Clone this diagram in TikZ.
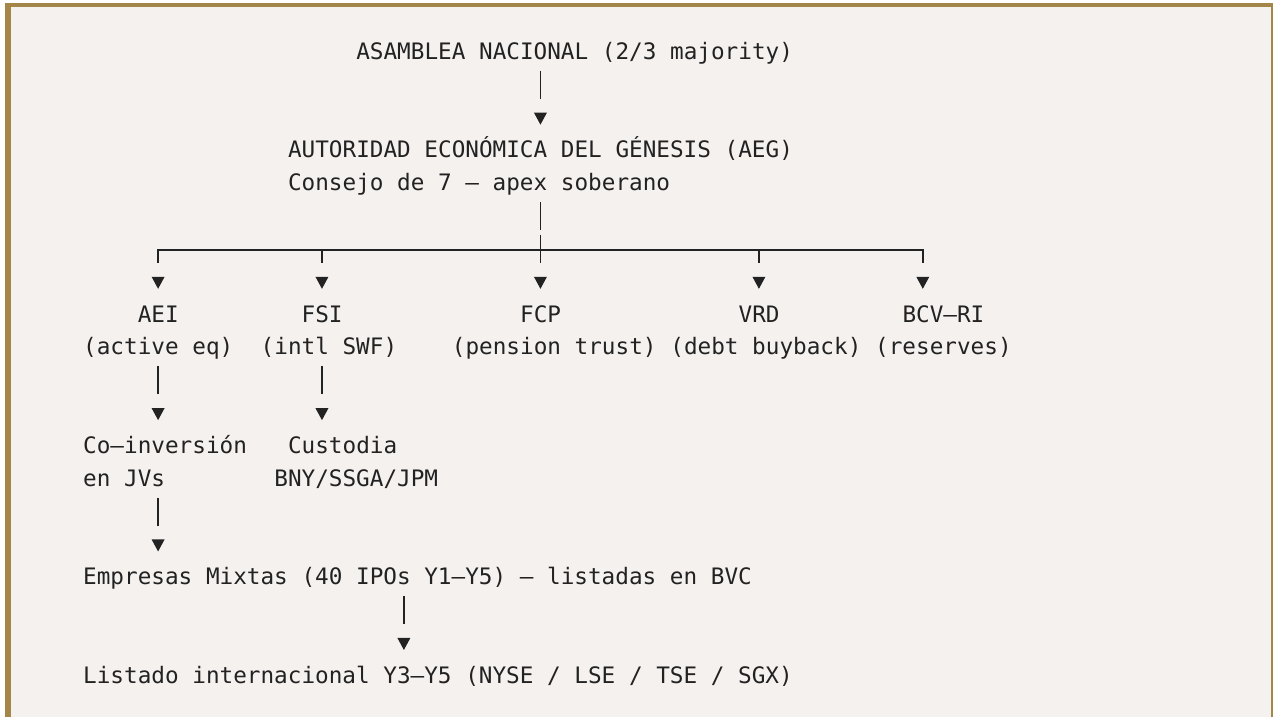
\documentclass[tikz,border=0pt]{standalone}
\usepackage{fontspec}
\setmonofont{DejaVu Sans Mono}
\definecolor{bg}{HTML}{F5F1EF}
\definecolor{gold}{HTML}{A38648}
\definecolor{ink}{HTML}{222222}
% column left edge, column centre, row baseline (in px)
\newcommand\cL[1]{83.2+13.655*#1}
\newcommand\cX[1]{89.8275+13.655*#1}
\newcommand\rB[1]{59.5+32.83*#1}
\newcommand\mktip[3]{\coordinate (#1) at (\cX{#2},\rB{#3}-0.5);
  \fill[ink] (#1) -- ++(-6.5,-12) -- ++(13,0) -- cycle;}
\newcommand\mkbarpts[3]{\coordinate (#1s) at (\cX{#2},\rB{#3}-21.5);
  \coordinate (#1e) at (\cX{#2},\rB{#3}+6.5);}
\begin{document}
\begin{tikzpicture}[x=0.75pt,y=-0.75pt,
  txt/.style={anchor=base west,inner sep=0pt,outer sep=0pt,text=ink,
    font=\ttfamily\fontsize{17pt}{20pt}\selectfont},
  bar/.style={draw=ink,line width=1.25pt,line cap=butt,line join=miter}]
\useasboundingbox (0,0) rectangle (1274,717);
\fill[white] (0,0) rectangle (1274,717);
\fill[bg] (5,3) rectangle (1273,717);
\fill[gold] (5,3) rectangle (1273,7);
\fill[gold] (5,3) rectangle (11,717);
\fill[gold] (1271,3) rectangle (1273,717);

% texts
\node[txt] (asam) at (\cL{20},\rB{0}) {ASAMBLEA NACIONAL (2/3 majority)};
\node[txt] (aeg) at (\cL{15},\rB{3}) {AUTORIDAD ECONÓMICA DEL GÉNESIS (AEG)};
\node[txt] (consejo) at (\cL{15},\rB{4}) {Consejo de 7 — apex soberano};
\node[txt] (aei) at (\cL{4},\rB{8}) {AEI};
\node[txt] (fsi) at (\cL{16},\rB{8}) {FSI};
\node[txt] (fcp) at (\cL{32},\rB{8}) {FCP};
\node[txt] (vrd) at (\cL{48},\rB{8}) {VRD};
\node[txt] (bcv) at (\cL{60},\rB{8}) {BCV–RI};
\node[txt] (aeid) at (\cL{0},\rB{9}) {(active eq)};
\node[txt] (fsid) at (\cL{13},\rB{9}) {(intl SWF)};
\node[txt] (fcpd) at (\cL{27},\rB{9}) {(pension trust)};
\node[txt] (vrdd) at (\cL{43},\rB{9}) {(debt buyback)};
\node[txt] (bcvd) at (\cL{58},\rB{9}) {(reserves)};
\node[txt] (coinv) at (\cL{0},\rB{12}) {Co–inversión};
\node[txt] (coinv2) at (\cL{0},\rB{13}) {en JVs};
\node[txt] (cust) at (\cL{15},\rB{12}) {Custodia};
\node[txt] (cust2) at (\cL{14},\rB{13}) {BNY/SSGA/JPM};
\node[txt] (emp) at (\cL{0},\rB{16}) {Empresas Mixtas (40 IPOs Y1–Y5) — listadas en BVC};
\node[txt] (list) at (\cL{0},\rB{19}) {Listado internacional Y3–Y5 (NYSE / LSE / TSE / SGX)};

% ASAMBLEA -> AEG
\mkbarpts{c1}{33}{1}
\draw[bar] (c1s) -- (c1e);
\mktip{t1}{33}{2}

% AEG -> five entities
\mkbarpts{c2}{33}{5}
\draw[bar] (c2s) -- (c2e);
\coordinate (hl) at (\cX{5},\rB{6}-6.5);
\coordinate (hr) at (\cX{61},\rB{6}-6.5);
\coordinate (hlb) at (\cX{5},\rB{6}+6.5);
\coordinate (hrb) at (\cX{61},\rB{6}+6.5);
\draw[bar] (hlb) -- (hl) -- (hr) -- (hrb);
\mkbarpts{x}{33}{6}
\draw[bar] (xs) -- (xe);
\coordinate (s17a) at (\cX{17},\rB{6}-6.5);
\coordinate (s17b) at (\cX{17},\rB{6}+6.5);
\coordinate (s49a) at (\cX{49},\rB{6}-6.5);
\coordinate (s49b) at (\cX{49},\rB{6}+6.5);
\draw[bar] (s17a) -- (s17b);
\draw[bar] (s49a) -- (s49b);
\mktip{ta}{5}{7}
\mktip{tb}{17}{7}
\mktip{tc}{33}{7}
\mktip{td}{49}{7}
\mktip{te}{61}{7}

% AEI -> Co-inversion ; FSI -> Custodia
\mkbarpts{c3}{5}{10}
\draw[bar] (c3s) -- (c3e);
\mkbarpts{c4}{17}{10}
\draw[bar] (c4s) -- (c4e);
\mktip{tf}{5}{11}
\mktip{tg}{17}{11}

% Co-inversion -> Empresas
\mkbarpts{c5}{5}{14}
\draw[bar] (c5s) -- (c5e);
\mktip{th}{5}{15}

% Empresas -> Listado
\mkbarpts{c6}{23}{17}
\draw[bar] (c6s) -- (c6e);
\mktip{ti}{23}{18}
\end{tikzpicture}
\end{document}
